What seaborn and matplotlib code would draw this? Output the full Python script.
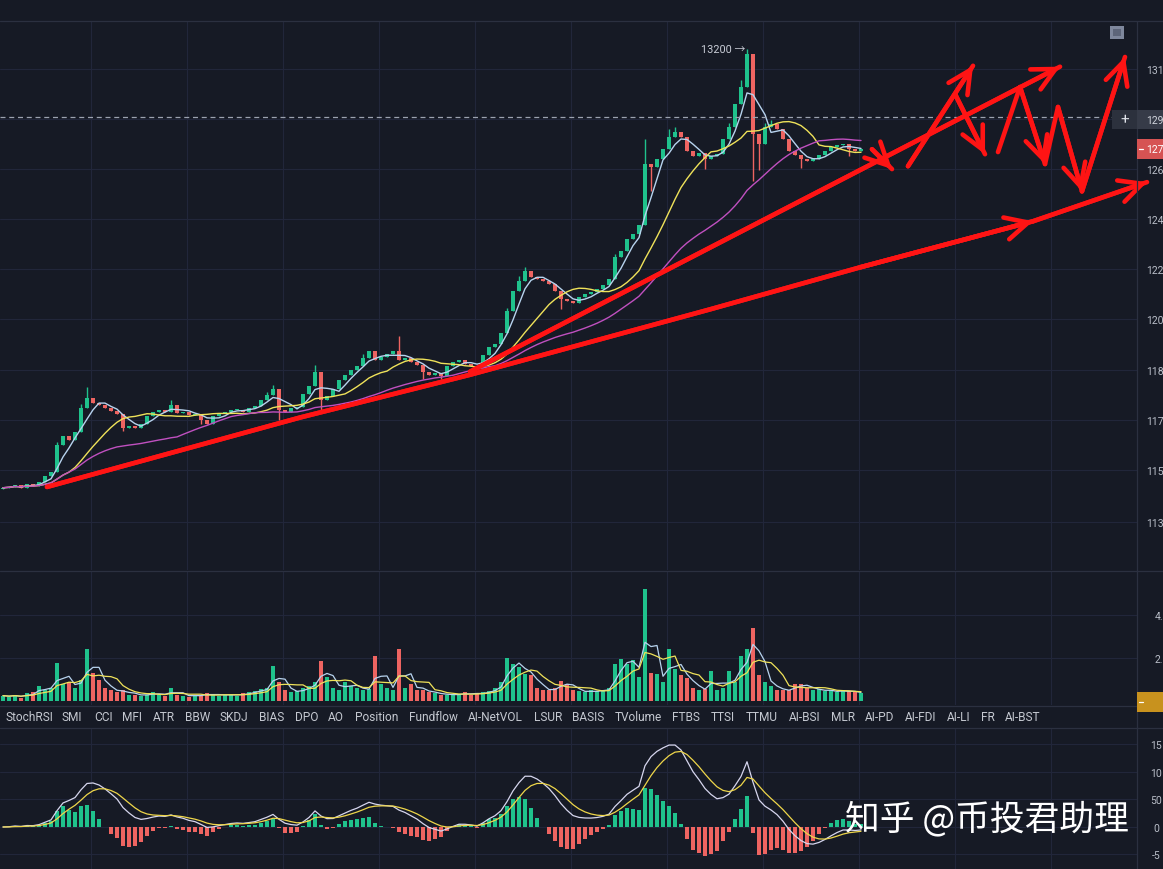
import numpy as np
import pandas as pd
import matplotlib
matplotlib.use("Agg")
import matplotlib.pyplot as plt
from matplotlib.patches import Rectangle
from matplotlib.lines import Line2D
from matplotlib.ticker import NullLocator
import seaborn as sns

# ---------------- data ----------------
closes = [
    11427, 11430, 11438, 11427, 11442, 11434, 11449, 11472, 11487, 11589,
    11624, 11608, 11639, 11731, 11770, 11750, 11743, 11731, 11719, 11708,
    11654, 11662, 11654, 11670, 11700, 11716, 11723, 11716, 11743, 11712,
    11716, 11704, 11708, 11685, 11670, 11700, 11712, 11716, 11723, 11723,
    11716, 11731, 11739, 11762, 11778, 11801, 11723, 11716, 11731, 11735,
    11782, 11816, 11870, 11762, 11774, 11801, 11839, 11858, 11878, 11894,
    11925, 11949, 11917, 11929, 11941, 11949, 11917, 11925, 11909, 11898,
    11870, 11858, 11866, 11855, 11894, 11909, 11917, 11901, 11894, 11886,
    11937, 11965, 11977, 12023, 12107, 12187, 12227, 12267, 12243, 12235,
    12227, 12215, 12187, 12155, 12147, 12139, 12163, 12175, 12183, 12195,
    12211, 12235, 12323, 12348, 12396, 12416, 12453, 12706, 12693, 12726,
    12768, 12818, 12839, 12818, 12760, 12739, 12751, 12726, 12739, 12747,
    12810, 12861, 12958, 13031, 13173, 12831, 12789, 12861, 12873, 12852,
    12810, 12760, 12743, 12726, 12718, 12726, 12743, 12760, 12776, 12785,
    12789, 12768, 12760, 12768,
]
first_open = 11422
wick_highs = {9: 11600, 13: 11745, 14: 11809, 28: 11762, 44: 11790, 45: 11820,
              52: 11898, 60: 11940, 66: 12008, 84: 12120, 86: 12250, 87: 12283,
              102: 12335, 107: 12810, 111: 12852, 112: 12860, 121: 12880,
              123: 13060, 124: 13195, 127: 12880, 128: 12890}
wick_lows = {7: 11460, 20: 11640, 33: 11670, 46: 11685, 53: 11723, 70: 11840,
             73: 11840, 93: 12115, 108: 12593, 117: 12685, 125: 12635,
             126: 12680, 133: 12690, 141: 12740}
volumes = [
    0.25, 0.2, 0.3, 0.15, 0.35, 0.4, 0.7, 0.5, 0.6, 1.75,
    0.8, 0.9, 0.6, 1.0, 2.4, 1.3, 1.0, 0.6, 0.5, 0.4,
    0.5, 0.3, 0.3, 0.25, 0.3, 0.4, 0.3, 0.25, 0.6, 0.3,
    0.25, 0.2, 0.3, 0.25, 0.35, 0.3, 0.25, 0.3, 0.3, 0.25,
    0.35, 0.4, 0.45, 0.55, 0.6, 1.65, 0.9, 0.5, 0.4, 0.45,
    0.6, 0.7, 0.9, 1.85, 1.1, 0.6, 0.5, 0.9, 0.7, 0.6,
    0.5, 0.55, 2.1, 0.8, 0.6, 0.5, 2.4, 0.6, 0.8, 0.5,
    0.5, 0.4, 0.35, 0.3, 0.3, 0.3, 0.3, 0.4, 0.3, 0.35,
    0.4, 0.45, 0.6, 0.9, 2.0, 1.7, 1.6, 1.25, 1.2, 0.6,
    0.5, 0.5, 0.6, 0.95, 0.8, 0.5, 0.45, 0.4, 0.5, 0.45,
    0.5, 0.6, 1.7, 1.95, 1.7, 1.9, 1.1, 5.2, 1.3, 1.25,
    0.9, 2.4, 1.5, 1.2, 1.05, 0.6, 0.5, 0.55, 1.4, 0.5,
    0.6, 1.4, 0.9, 2.1, 2.4, 3.4, 1.2, 0.9, 0.7, 0.5,
    0.5, 0.5, 0.8, 0.8, 0.6, 0.5, 0.55, 0.45, 0.5, 0.4,
    0.5, 0.45, 0.4, 0.35,
]
price_ticks = [13109, 12895, 12685, 12478, 12275, 12075, 11878, 11685, 11495, 11300]
# labels as they show at the cut-off right edge (the 12895 one is hidden by the crosshair box)
price_tick_labels = ["131", "", "126", "124", "122", "120", "118", "117", "115", "113"]
vol_ticks = [4, 2]
vol_tick_labels = ["4.", "2."]
macd_ticks = [150, 100, 50, 0, -50]
macd_tick_labels = ["15", "10", "50", "0", "-5"]
peak_text = "13200 →"
cross_price = 12905
cross_label = "129"
last_label = "127"
tab_labels = ["StochRSI", "SMI", "CCI", "MFI", "ATR", "BBW", "SKDJ", "BIAS", "DPO",
              "AO", "Position", "Fundflow", "AI-NetVOL", "LSUR", "BASIS", "TVolume",
              "FTBS", "TTSI", "TTMU", "AI-BSI", "MLR", "AI-PD", "AI-FDI", "AI-LI",
              "FR", "AI-BST"]
watermark = "知乎 @币投君助理"

# hand-drawn red annotation strokes (candle index, price)
lower_trend_x = [7.33, 49.5, 77.83, 117.83, 142.83, 171.67, 190.67]
lower_trend_p = [11430, 11693, 11858, 12115, 12283, 12470, 12631]
upper_trend_x = [77.83, 176.17]
upper_trend_p = [11870, 13118]
small_arrow_x = [144.83, 148.17]
small_arrow_p = [12768, 12685]
zig1_x = [150.83, 161.67]; zig1_p = [12697, 13122]
zig2_x = [158.67, 163.67]; zig2_p = [13001, 12747]
zig3_x = [165.83, 169.5, 173.67]; zig3_p = [12756, 13031, 12706]
zig4_x = [173.67, 175.83, 179.83]; zig4_p = [12706, 12946, 12593]
zig5_x = [179.83, 187.0]; zig5_p = [12593, 13160]

# ---------------- style ----------------
BG = "#161a25"
GRID = "#21263a"
SEP = "#2b3040"
UP = "#1fc28c"
DOWN = "#ee6461"
RED = "#ff1414"
TXT = "#b9bec8"
LBL = 7.5

sns.set_theme(style="dark", rc={"axes.facecolor": BG, "figure.facecolor": BG,
                                "savefig.facecolor": BG})
plt.rcParams["font.family"] = ["Roboto", "Noto Sans CJK SC", "DejaVu Sans"]

W, H = 1163, 870
fig = plt.figure(figsize=(W / 100, H / 100), dpi=100)


def fr(x0, y0, x1, y1):
    return [x0 / W, 1 - y1 / H, (x1 - x0) / W, (y1 - y0) / H]


def px2pt(p):
    return p * 72 / 100


ax = fig.add_axes(fr(0, 22, 1137, 571))
axv = fig.add_axes(fr(0, 572, 1137, 706))
axm = fig.add_axes(fr(0, 729, 1137, 870))

n = len(closes)
idx = np.arange(n)
c = np.array(closes, float)
o = np.r_[first_open, c[:-1]]
hi = np.maximum(o, c)
lo = np.minimum(o, c)
for k, v in wick_highs.items():
    hi[k] = max(hi[k], v)
for k, v in wick_lows.items():
    lo[k] = min(lo[k], v)
up = c >= o
cols = np.where(up, UP, DOWN)

grid_x = np.arange(14.67, 189, 16)

for a in (ax, axv, axm):
    a.set_xlim(-0.5, 189)
    a.set_xticks(grid_x)
    a.set_xticklabels([])
    a.tick_params(axis="x", length=0)
    a.grid(True, color=GRID, lw=0.8)
    a.set_axisbelow(True)
    for s in a.spines.values():
        s.set_visible(False)
    a.yaxis.tick_right()

# ---- main price panel ----
ax.set_yscale("log")
ax.set_ylim(11123, 13316)
ax.vlines(idx, lo, hi, colors=cols, lw=1.0, zorder=2)
ax.bar(idx, np.maximum(np.abs(c - o), 2.5), bottom=np.minimum(o, c), width=0.66,
       color=cols, linewidth=0, zorder=3)
cs = pd.Series(c)
sns.lineplot(x=idx, y=cs.rolling(4, min_periods=1).mean().values, ax=ax,
             color="#b7d3ee", lw=1.0, zorder=4)
sns.lineplot(x=idx, y=cs.rolling(12, min_periods=1).mean().values, ax=ax,
             color="#efe25a", lw=1.0, zorder=4)
sns.lineplot(x=idx, y=cs.rolling(30, min_periods=1).mean().values, ax=ax,
             color="#c050c0", lw=1.0, zorder=4)
ax.yaxis.set_minor_locator(NullLocator())
ax.set_yticks(price_ticks)
ax.set_yticklabels(price_tick_labels)
ax.tick_params(axis="y", length=0, pad=px2pt(9), labelsize=LBL, labelcolor=TXT)
ax.set_xlim(-0.5, 189)
ax.axhline(cross_price, xmin=0, xmax=1112 / 1137, color="#9ca2b0", lw=0.9,
           ls=(0, (4, 3)), zorder=5)
pk = int(np.argmax(hi))
ax.text(pk - 0.3, hi[pk], peak_text, ha="right", va="center", fontsize=7.8,
        color="#c8ccd6", zorder=6)


def stroke(xs, ps, head=True):
    ax.plot(xs, ps, color=RED, lw=3.3, solid_capstyle="round", clip_on=False, zorder=8)
    if head:
        ax.annotate("", xy=(xs[-1], ps[-1]), xytext=(xs[-2], ps[-2]),
                    arrowprops=dict(arrowstyle="->,head_length=0.9,head_width=0.45",
                                    color=RED, lw=3.3, shrinkA=0, shrinkB=0,
                                    mutation_scale=18),
                    annotation_clip=False, zorder=8)


stroke(lower_trend_x, lower_trend_p)
stroke(lower_trend_x[:6], lower_trend_p[:6])
stroke(upper_trend_x, upper_trend_p)
stroke(small_arrow_x, small_arrow_p)
stroke(zig1_x, zig1_p)
stroke(zig2_x, zig2_p)
stroke(zig3_x, zig3_p)
stroke(zig4_x, zig4_p)
stroke(zig5_x, zig5_p)

# ---- volume panel ----
v = np.array(volumes)
axv.set_ylim(-0.186, 6.05)
axv.bar(idx, v, width=0.66, color=cols, linewidth=0, zorder=3)
vs = pd.Series(v)
sns.lineplot(x=idx, y=vs.rolling(3, min_periods=1).mean().values, ax=axv,
             color="#b7d3ee", lw=0.9, zorder=4)
sns.lineplot(x=idx, y=vs.rolling(6, min_periods=1).mean().values, ax=axv,
             color="#efe25a", lw=0.9, zorder=4)
axv.set_yticks(vol_ticks)
axv.set_yticklabels(vol_tick_labels)
axv.tick_params(axis="y", length=0, pad=px2pt(18), labelsize=LBL, labelcolor=TXT)
axv.set_xlim(-0.5, 189)

# ---- MACD panel ----
ema_f = cs.ewm(span=6, adjust=False).mean()
ema_s = cs.ewm(span=13, adjust=False).mean()
dif = ema_f - ema_s
dea = dif.ewm(span=5, adjust=False).mean()
hist = (2 * (dif - dea)).values
axm.set_ylim(-76.4, 180)
axm.bar(idx, hist, width=0.6, color=np.where(hist >= 0, UP, DOWN), linewidth=0, zorder=3)
sns.lineplot(x=idx, y=dif.values, ax=axm, color="#d6d6ee", lw=0.9, zorder=4)
sns.lineplot(x=idx, y=dea.values, ax=axm, color="#eed64a", lw=0.9, zorder=4)
axm.set_yticks(macd_ticks)
axm.set_yticklabels(macd_tick_labels)
axm.tick_params(axis="y", length=0, pad=px2pt(19.5), labelsize=LBL, labelcolor=TXT)
for lab in axm.get_yticklabels():
    lab.set_horizontalalignment("center")
axm.set_xlim(-0.5, 189)

# ---- frame lines ----
for y in (22, 571.5, 706.5, 729):
    fig.add_artist(Line2D([0, 1], [1 - y / H, 1 - y / H], color=SEP, lw=0.9,
                          transform=fig.transFigure))
fig.add_artist(Line2D([1137 / W, 1137 / W], [0, 1 - 22 / H], color=SEP, lw=0.9,
                      transform=fig.transFigure))

# ---- tab bar ----
tab_px = [5, 62, 94, 122, 153, 185, 220, 259, 295, 328, 355, 409, 468, 534, 572,
          615, 672, 711, 746, 789, 831, 865, 905, 947, 981, 1005]
for lab, xp in zip(tab_labels, tab_px):
    fig.text(xp / W, 1 - 718 / H, lab, fontsize=8.6, color="#c4c8d0", va="center",
             ha="left")


def box(x0, y0, x1, y1, color):
    fig.add_artist(Rectangle((x0 / W, 1 - y1 / H), (x1 - x0) / W, (y1 - y0) / H,
                             transform=fig.transFigure, color=color, lw=0, zorder=10))


# crosshair label
box(1112, 111, 1137, 130, "#2c313d")
box(1137, 111, 1163, 130, "#363b48")
fig.text(1125 / W, 1 - 120.5 / H, "+", color="#e0e3ea", fontsize=11, ha="center",
         va="center", zorder=11)
fig.text(1146 / W, 1 - 120.5 / H, cross_label, color="#d0d4dc", fontsize=LBL,
         va="center", zorder=11)
# last price label
box(1137, 140, 1163, 160, "#d65353")
fig.add_artist(Line2D([1139 / W, 1143 / W], [1 - 150 / H] * 2, color="white", lw=0.9,
                      transform=fig.transFigure, zorder=11))
fig.text(1146 / W, 1 - 150 / H, last_label, color="white", fontsize=LBL,
         va="center", zorder=11)
# volume label
box(1137, 693, 1163, 713, "#c8921e")
fig.add_artist(Line2D([1139 / W, 1143 / W], [1 - 703 / H] * 2, color="white", lw=0.9,
                      transform=fig.transFigure, zorder=11))
# top-right icon
box(1110, 27, 1124, 40, "#7e879c")
box(1113, 30, 1121, 37, "#5d6579")

# watermark
fig.text(845 / W, 1 - 820 / H, watermark, fontsize=25, color="white",
         family=["Noto Sans CJK SC", "DejaVu Sans"], va="center", ha="left", zorder=20)

fig.savefig("out.png", dpi=100, facecolor=BG)
